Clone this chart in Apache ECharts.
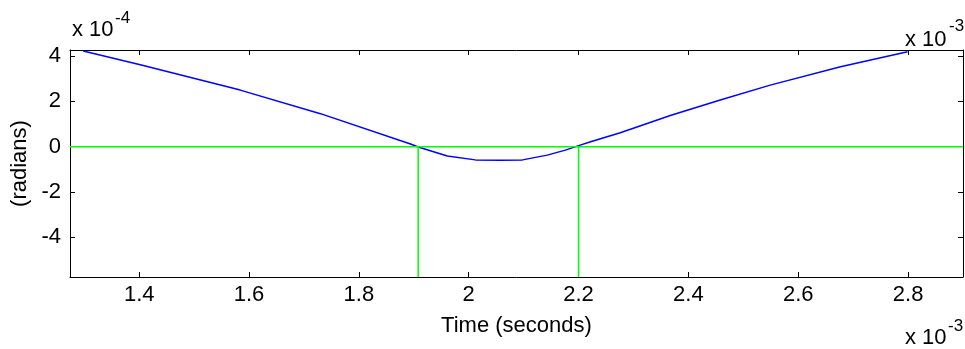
<!DOCTYPE html>
<html>
<head>
<meta charset="utf-8">
<script src="https://cdn.jsdelivr.net/npm/echarts@6/dist/echarts.min.js"></script>
<style>
html,body{margin:0;padding:0;background:#fff;}
#chart{width:965px;height:349px;}
</style>
</head>
<body>
<div id="chart"></div>
<script>
// Time in units of 1e-3 s, angle in units of 1e-4 rad
const timeValues = [1.298, 1.402, 1.584, 1.730, 1.894, 1.908, 1.961, 2.012, 2.058, 2.098, 2.143, 2.176, 2.203, 2.222, 2.276, 2.367, 2.458, 2.549, 2.677, 2.799];
const angleValues = [4.23, 3.62, 2.50, 1.46, 0.12, -0.01, -0.41, -0.58, -0.60, -0.58, -0.37, -0.15, 0.07, 0.22, 0.62, 1.38, 2.06, 2.72, 3.53, 4.19];
const xTicks = [1.4, 1.6, 1.8, 2.0, 2.2, 2.4, 2.6, 2.8];
const yTicks = [-4, -2, 0, 2, 4];
const xRange = [1.274, 2.9];
const yRange = [-5.75, 4.27];
const zeroLineX = [1.274, 2.9];
const zeroLineY = [0, 0];
const crossing1 = [1.908, 1.908];
const crossing2 = [2.2, 2.2];
const crossingY = [0, -5.75];

const FONT = '"Liberation Sans", Arial, sans-serif';
const zip = (a, b) => a.map((v, i) => [v, b[i]]);
const fmt = v => String(+(+v).toFixed(1));

const axisCommon = {
  axisLine: {show: true, onZero: false, lineStyle: {color: '#000', width: 1}},
  splitLine: {show: false},
};

const chart = echarts.init(document.getElementById('chart'), null, {renderer: 'canvas'});
chart.setOption({
  animation: false,
  backgroundColor: '#fff',
  grid: {left: 70, right: 2, top: 50, bottom: 72, containLabel: false},
  xAxis: [
    Object.assign({
      type: 'value', position: 'bottom', min: xRange[0], max: xRange[1],
      name: 'Time (seconds)', nameLocation: 'middle', nameGap: 38,
      nameTextStyle: {color: '#000', fontSize: 22, fontFamily: FONT},
      axisTick: {show: true, inside: true, length: 5, customValues: xTicks, lineStyle: {color: '#000'}},
      axisLabel: {show: true, customValues: xTicks, formatter: fmt, margin: 7, color: '#000', fontSize: 22, fontFamily: FONT}
    }, axisCommon),
    Object.assign({
      type: 'value', position: 'top', min: xRange[0], max: xRange[1],
      axisTick: {show: true, inside: true, length: 5, customValues: xTicks, lineStyle: {color: '#000'}},
      axisLabel: {show: false}
    }, axisCommon)
  ],
  yAxis: [
    Object.assign({
      type: 'value', position: 'left', min: yRange[0], max: yRange[1],
      name: '(radians)', nameLocation: 'middle', nameGap: 37,
      nameTextStyle: {color: '#000', fontSize: 22, fontFamily: FONT},
      axisTick: {show: true, inside: true, length: 5, customValues: yTicks, lineStyle: {color: '#000'}},
      axisLabel: {show: true, customValues: yTicks, formatter: fmt, margin: 9, color: '#000', fontSize: 22, fontFamily: FONT}
    }, axisCommon),
    Object.assign({
      type: 'value', position: 'right', min: yRange[0], max: yRange[1],
      axisTick: {show: true, inside: true, length: 5, customValues: yTicks, lineStyle: {color: '#000'}},
      axisLabel: {show: false}
    }, axisCommon)
  ],
  series: [
    {type: 'line', data: zip(timeValues, angleValues), showSymbol: false, symbol: 'none',
     lineStyle: {color: '#0000ff', width: 1.5}, z: 2},
    {type: 'line', data: zip(zeroLineX, zeroLineY), showSymbol: false, symbol: 'none',
     lineStyle: {color: '#00ff00', width: 1.5}, z: 3},
    {type: 'line', data: zip(crossing1, crossingY), showSymbol: false, symbol: 'none',
     lineStyle: {color: '#00ff00', width: 1.5}, z: 3},
    {type: 'line', data: zip(crossing2, crossingY), showSymbol: false, symbol: 'none',
     lineStyle: {color: '#00ff00', width: 1.5}, z: 3}
  ],
  graphic: [
    {type: 'text', x: 72, y: 30, style: {text: 'x 10', font: '22px ' + FONT, fill: '#000', verticalAlign: 'middle'}},
    {type: 'text', x: 115, y: 18.5, style: {text: '-4', font: '17px ' + FONT, fill: '#000', verticalAlign: 'middle'}},
    {type: 'text', x: 905, y: 40, style: {text: 'x 10', font: '22px ' + FONT, fill: '#000', verticalAlign: 'middle'}},
    {type: 'text', x: 949, y: 26.5, style: {text: '-3', font: '17px ' + FONT, fill: '#000', verticalAlign: 'middle'}},
    {type: 'text', x: 905, y: 338, style: {text: 'x 10', font: '22px ' + FONT, fill: '#000', verticalAlign: 'middle'}},
    {type: 'text', x: 948, y: 326, style: {text: '-3', font: '17px ' + FONT, fill: '#000', verticalAlign: 'middle'}}
  ]
});
</script>
</body>
</html>
